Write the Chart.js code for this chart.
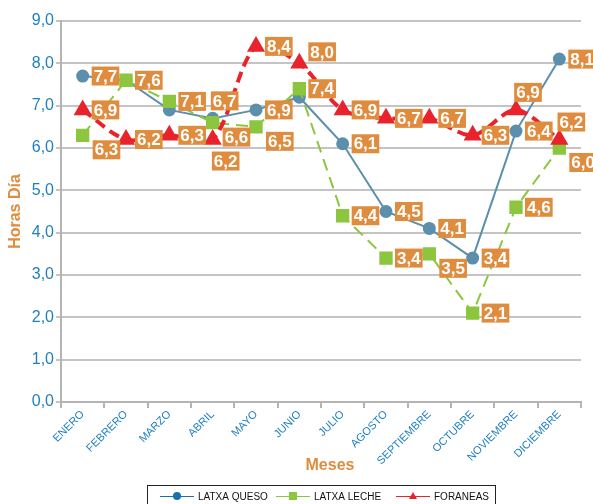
<!DOCTYPE html>
<html>
<head>
<meta charset="utf-8">
<script src="https://cdn.jsdelivr.net/npm/chart.js@4.4.0/dist/chart.umd.min.js"></script>
<style>
  html, body { margin: 0; padding: 0; background: #fff; }
  #wrap { width: 593px; height: 504px; }
</style>
</head>
<body>
<div id="wrap"><canvas id="chart" width="593" height="504"></canvas></div>
<script>
const meses = ['ENERO', 'FEBRERO', 'MARZO', 'ABRIL', 'MAYO', 'JUNIO', 'JULIO', 'AGOSTO', 'SEPTIEMBRE', 'OCTUBRE', 'NOVIEMBRE', 'DICIEMBRE'];
const latxaQueso = [7.7, 7.6, 6.9, 6.7, 6.9, 7.2, 6.1, 4.5, 4.1, 3.4, 6.4, 8.1];
const latxaLeche = [6.3, 7.6, 7.1, 6.6, 6.5, 7.4, 4.4, 3.4, 3.5, 2.1, 4.6, 6.0];
const foraneas = [6.9, 6.2, 6.3, 6.2, 8.4, 8.0, 6.9, 6.7, 6.7, 6.3, 6.9, 6.2];
const yMin = 0, yMax = 9, yStep = 1;

const FONT = "'Liberation Sans', Arial, sans-serif";
const ORANGE = '#e08c3e';
const AXIS_BLUE = '#1f7fc0';

// where each value label sits: r = right, rb = right/below, ra = right/above, a = above, b = below, '-' = hidden
const labelPlace = [
  ['r', '-', '-', 'a', 'r', '-', 'r', 'r', 'r', 'r', 'r', 'r'],
  ['rb', 'r', 'r', 'rb', 'rb', 'r', 'r', 'r', 'rb', 'r', 'r', 'rb'],
  ['r', 'r', 'r', 'b', 'r', 'ra', 'r', 'r', 'r', 'r', 'a', 'a']
];

const fmt = v => v.toFixed(1).replace('.', ',');

const valueLabels = {
  id: 'valueLabels',
  afterDatasetsDraw(chart) {
    const ctx = chart.ctx;
    ctx.save();
    ctx.font = 'bold 17px ' + FONT;
    ctx.textBaseline = 'middle';
    ctx.textAlign = 'center';
    chart.data.datasets.forEach((ds, di) => {
      const meta = chart.getDatasetMeta(di);
      meta.data.forEach((pt, i) => {
        const place = labelPlace[di][i];
        if (place === '-') return;
        const txt = fmt(ds.data[i]);
        const w = ctx.measureText(txt).width + 4, h = 19;
        let left, top;
        if (place === 'r') { left = pt.x + 9; top = pt.y - h / 2; }
        else if (place === 'rb') { left = pt.x + 10; top = pt.y + 5; }
        else if (place === 'ra') { left = pt.x + 9; top = pt.y - h - 2; }
        else if (place === 'a') { left = pt.x + 12 - w / 2; top = pt.y - h - 8; }
        else { left = pt.x + 13 - w / 2; top = pt.y + 12; }
        ctx.fillStyle = ORANGE;
        ctx.fillRect(left, top, w, h);
        ctx.fillStyle = '#fff';
        ctx.fillText(txt, left + w / 2, top + h / 2 + 1);
      });
    });
    ctx.restore();
  },
  afterDraw(chart) {
    const ctx = chart.ctx;
    const area = chart.chartArea;
    ctx.save();
    // axis titles
    ctx.fillStyle = ORANGE;
    ctx.font = 'bold 16px ' + FONT;
    ctx.textAlign = 'center';
    ctx.textBaseline = 'middle';
    ctx.save();
    ctx.translate(16, (area.top + area.bottom) / 2);
    ctx.rotate(-Math.PI / 2);
    ctx.fillText('Horas Día', 0, 0);
    ctx.restore();
    ctx.fillText('Meses', 330, 466);

    // legend box
    ctx.strokeStyle = '#222';
    ctx.lineWidth = 1;
    ctx.strokeRect(147.5, 485.5, 348, 24);
    const items = [
      { x: 160, txt: 'LATXA QUESO', color: '#1a6fae', style: 'circle' },
      { x: 276, txt: 'LATXA LECHE', color: '#8cc63f', style: 'rect' },
      { x: 396, txt: 'FORANEAS', color: '#e8232b', style: 'triangle' }
    ];
    const ly = 496;
    ctx.font = '10px ' + FONT;
    ctx.textAlign = 'left';
    items.forEach(it => {
      ctx.strokeStyle = it.color;
      ctx.lineWidth = 1;
      ctx.beginPath();
      ctx.moveTo(it.x, ly + 0.5);
      ctx.lineTo(it.x + 34, ly + 0.5);
      ctx.stroke();
      ctx.fillStyle = it.color;
      const cx = it.x + 17;
      ctx.beginPath();
      if (it.style === 'circle') ctx.arc(cx, ly, 4, 0, Math.PI * 2);
      else if (it.style === 'rect') ctx.rect(cx - 4, ly - 4, 8, 8);
      else { ctx.moveTo(cx, ly - 4); ctx.lineTo(cx + 4, ly + 3); ctx.lineTo(cx - 4, ly + 3); ctx.closePath(); }
      ctx.fill();
      ctx.fillStyle = '#111';
      ctx.fillText(it.txt, it.x + 38, ly + 1);
    });
    ctx.restore();
  }
};

new Chart(document.getElementById('chart'), {
  type: 'line',
  data: {
    labels: meses,
    datasets: [
      {
        label: 'LATXA QUESO', data: latxaQueso, order: 3,
        borderColor: '#5b8fab', backgroundColor: '#5b8fab', borderWidth: 2,
        pointStyle: 'circle', pointRadius: 5.5, pointHoverRadius: 5.5, tension: 0
      },
      {
        label: 'LATXA LECHE', data: latxaLeche, order: 2,
        borderColor: '#8cc63f', backgroundColor: '#8cc63f', borderWidth: 2, borderDash: [12, 7],
        pointStyle: 'rect', pointRadius: 8, pointHoverRadius: 8, tension: 0
      },
      {
        label: 'FORANEAS', data: foraneas, order: 1,
        borderColor: '#e8232b', backgroundColor: '#e8232b', borderWidth: 4, borderDash: [11, 6],
        pointStyle: 'triangle', pointRadius: 6.5, pointHoverRadius: 6.5, tension: 0.3
      }
    ]
  },
  options: {
    responsive: false,
    animation: false,
    devicePixelRatio: 1,
    layout: { padding: { top: 21, right: 12, left: 0, bottom: 0 } },
    plugins: { legend: { display: false }, tooltip: { enabled: false } },
    scales: {
      x: {
        offset: true,
        grid: { offset: true, drawOnChartArea: false, drawTicks: true, tickLength: 6, color: '#b4b4b4', lineWidth: 2 },
        border: { color: '#b4b4b4', width: 2 },
        ticks: { color: AXIS_BLUE, font: { family: FONT, size: 11 }, minRotation: 45, maxRotation: 45, padding: 0 },
        afterFit: s => { s.height = 102; }
      },
      y: {
        min: yMin, max: yMax,
        grid: { color: '#c4c4c4', lineWidth: 2, tickLength: 5 },
        border: { color: '#b4b4b4', width: 2 },
        ticks: { stepSize: yStep, color: AXIS_BLUE, font: { family: FONT, size: 16 }, padding: 2, callback: v => fmt(v) },
        afterFit: s => { s.width = 61; }
      }
    }
  },
  plugins: [valueLabels]
});
</script>
</body>
</html>
